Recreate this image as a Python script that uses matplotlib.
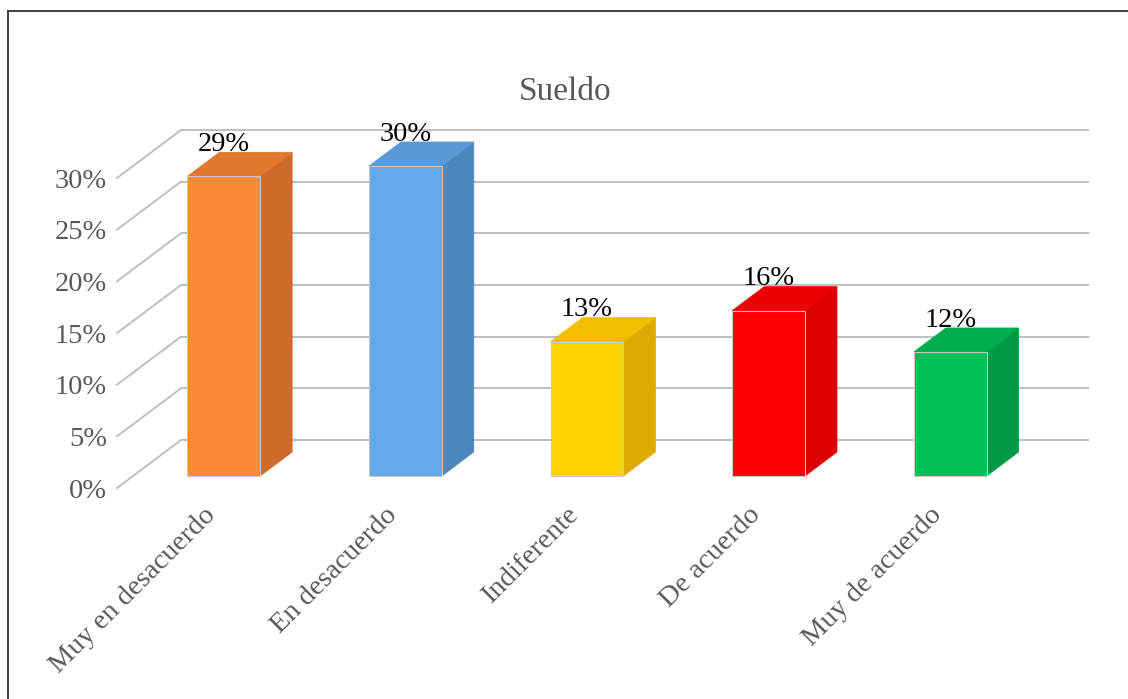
import matplotlib.pyplot as plt
from matplotlib.patches import Polygon

categories = ['Muy en desacuerdo', 'En desacuerdo', 'Indiferente', 'De acuerdo', 'Muy de acuerdo']
values = [29, 30, 13, 16, 12]
front_colors = ['#FB8A36', '#63A8E8', '#FFD200', '#FF0000', '#00C057']
side_colors = ['#CE6B2B', '#4E86BE', '#DDAA00', '#DC0000', '#009A45']
top_colors = ['#E2772F', '#5A98D5', '#F2BE00', '#EE0000', '#00AD4E']
yticks = [0, 5, 10, 15, 20, 25, 30]

plt.rcParams['font.family'] = ['Liberation Serif', 'DejaVu Serif']

W, H = 1128, 699
fig = plt.figure(figsize=(W / 100, H / 100), dpi=100)
ax = fig.add_axes([0, 0, 1, 1])
ax.axis('off')

# layout of the fake 3d box (in pixels), turned into data units
x_front_left = 117.0    # px where the front edge starts
y_front_zero = 488.0    # px of 0% on the front edge
cat_px = 181.6          # px per category
pct_px = 10.333         # px per 1%
depth_x = 64.0 / cat_px
depth_y = 48.0 / pct_px

ax.set_xlim(-x_front_left / cat_px - 0.5, (W - x_front_left) / cat_px - 0.5)
ax.set_ylim((y_front_zero - H) / pct_px, y_front_zero / pct_px)

n = len(categories)
grid_c = '#BFBFBF'
for t in yticks:
    # back wall line + left wall diagonal
    ax.plot([-0.5 + depth_x, n - 0.5 + depth_x], [t + depth_y, t + depth_y],
            color=grid_c, lw=1.4, zorder=1, solid_capstyle='butt')
    ax.plot([-0.5, -0.5 + depth_x], [t, t + depth_y], color=grid_c, lw=1.4, zorder=1)
    ax.text(-0.5 - 10 / cat_px, t - 0.3, f'{t}%', ha='right', va='center',
            fontsize=20.5, color='#595959')

hw = 0.2
d0, d1 = 0.25, 0.75
ox0, oy0 = d0 * depth_x, d0 * depth_y
ox1, oy1 = d1 * depth_x, d1 * depth_y
for i, v in enumerate(values):
    front = [(i - hw + ox0, oy0), (i + hw + ox0, oy0), (i + hw + ox0, v + oy0), (i - hw + ox0, v + oy0)]
    side = [(i + hw + ox0, oy0), (i + hw + ox1, oy1), (i + hw + ox1, v + oy1), (i + hw + ox0, v + oy0)]
    top = [(i - hw + ox0, v + oy0), (i + hw + ox0, v + oy0), (i + hw + ox1, v + oy1), (i - hw + ox1, v + oy1)]
    ax.add_patch(Polygon(side, closed=True, fc=side_colors[i], ec=side_colors[i], lw=0.6, zorder=3))
    ax.add_patch(Polygon(top, closed=True, fc=top_colors[i], ec=top_colors[i], lw=0.6, zorder=3))
    ax.add_patch(Polygon(front, closed=True, fc=front_colors[i], ec='#C8C8C8', lw=0.8, zorder=4))
    ax.text(i + ox0, v + oy1 - 0.45, f'{v}%', ha='center', va='bottom', fontsize=20.5,
            color='black', zorder=5)
    ax.text(i + ox0 - 0.115, -1.4, categories[i], rotation=45, rotation_mode='anchor',
            ha='right', va='top', fontsize=20.5, color='#595959')

fig.text(0.501, 0.869, 'Sueldo', ha='center', va='center', fontsize=24, color='#595959')

# outer frame (top and left edges visible)
fig.add_artist(plt.Line2D([8 / W, 8 / W], [0, 1 - 11 / H], color='#333333', lw=1.3))
fig.add_artist(plt.Line2D([8 / W, 1], [1 - 11 / H, 1 - 11 / H], color='#333333', lw=1.3))

fig.savefig('out.png', dpi=100)
